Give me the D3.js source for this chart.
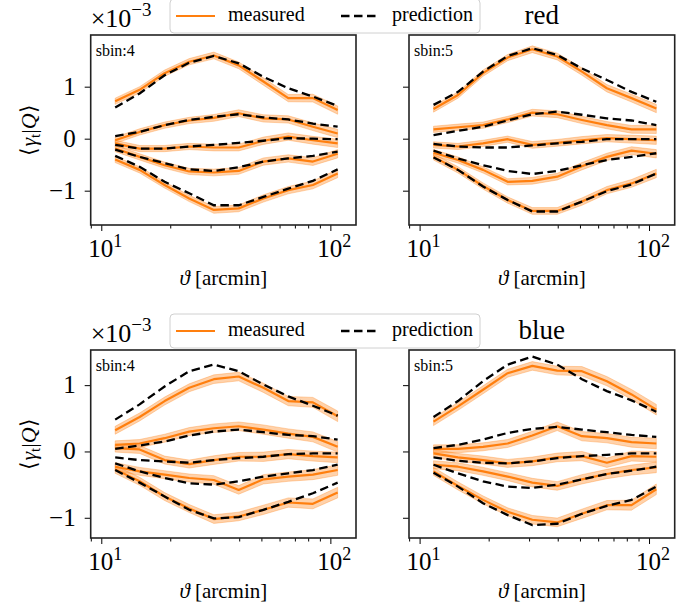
<!DOCTYPE html>
<html><head><meta charset="utf-8">
<script src="https://cdn.jsdelivr.net/npm/d3@7"></script>
<style>body{margin:0;background:#fff} svg{display:block}</style>
</head><body><svg id="c" width="692" height="606"></svg>
<script>
// angular bins [arcmin]
const theta = [11.5, 14.7, 18.9, 24.2, 31.0, 39.8, 51.0, 65.5, 83.9, 107.6];
// band half-widths (x1e-3)
const bandHalf = [0.06, 0.06, 0.06, 0.06, 0.065, 0.065, 0.07, 0.07, 0.075, 0.08];
const yTicks = [-1, 0, 1];
const xMajor = [10, 100];
const xMinor = [9, 20, 30, 40, 50, 60, 70, 80, 90];
const legendLabels = ["measured", "prediction"];
const groupTitles = ["red", "blue"];
const binLabels = ["sbin:4", "sbin:5"];

// values in units of 1e-3, five quantile curves per panel
const redS4Meas = [
 [0.72,0.94,1.26,1.48,1.60,1.41,1.10,0.78,0.78,0.55],
 [-0.03,0.13,0.26,0.35,0.40,0.49,0.39,0.37,0.23,0.10],
 [-0.09,-0.19,-0.19,-0.15,-0.17,-0.17,-0.04,0.04,-0.03,-0.09],
 [-0.19,-0.35,-0.51,-0.63,-0.65,-0.62,-0.44,-0.38,-0.44,-0.29],
 [-0.40,-0.60,-0.89,-1.15,-1.37,-1.34,-1.15,-0.99,-0.89,-0.67]];
const redS4Pred = [
 [0.60,0.87,1.22,1.46,1.59,1.45,1.19,0.97,0.81,0.63],
 [0.05,0.13,0.26,0.36,0.42,0.47,0.41,0.37,0.29,0.23],
 [-0.12,-0.19,-0.19,-0.15,-0.12,-0.08,-0.04,0.01,0.00,-0.01],
 [-0.21,-0.35,-0.47,-0.59,-0.62,-0.55,-0.44,-0.38,-0.33,-0.25],
 [-0.33,-0.54,-0.83,-1.05,-1.28,-1.28,-1.12,-0.96,-0.81,-0.59]];
const redS5Meas = [
 [0.57,0.84,1.26,1.56,1.72,1.58,1.29,0.97,0.78,0.58],
 [0.18,0.22,0.26,0.37,0.50,0.47,0.36,0.26,0.18,0.18],
 [-0.12,-0.15,-0.09,-0.01,-0.12,-0.08,-0.03,0.01,-0.01,-0.03],
 [-0.27,-0.41,-0.60,-0.83,-0.81,-0.73,-0.53,-0.35,-0.23,-0.29],
 [-0.35,-0.60,-0.91,-1.18,-1.39,-1.39,-1.21,-0.99,-0.86,-0.67]];
const redS5Pred = [
 [0.65,0.90,1.29,1.59,1.74,1.61,1.35,1.13,0.90,0.71],
 [0.07,0.15,0.23,0.35,0.47,0.52,0.46,0.39,0.35,0.26],
 [-0.10,-0.15,-0.17,-0.17,-0.13,-0.09,-0.06,-0.01,-0.01,-0.01],
 [-0.23,-0.38,-0.51,-0.62,-0.68,-0.62,-0.51,-0.41,-0.35,-0.28],
 [-0.36,-0.60,-0.92,-1.18,-1.40,-1.40,-1.21,-1.01,-0.88,-0.67]];
const blueS4Meas = [
 [0.32,0.52,0.76,0.96,1.09,1.13,0.96,0.76,0.74,0.53],
 [0.10,0.12,0.20,0.30,0.35,0.38,0.33,0.27,0.22,0.07],
 [0.05,0.03,-0.13,-0.19,-0.13,-0.08,-0.08,-0.04,-0.07,-0.09],
 [-0.23,-0.30,-0.35,-0.40,-0.43,-0.58,-0.42,-0.38,-0.35,-0.28],
 [-0.27,-0.45,-0.68,-0.86,-1.02,-0.98,-0.88,-0.77,-0.79,-0.62]];
const blueS4Pred = [
 [0.48,0.71,0.98,1.21,1.31,1.21,1.01,0.83,0.69,0.54],
 [0.04,0.09,0.15,0.24,0.30,0.33,0.29,0.25,0.23,0.18],
 [-0.09,-0.13,-0.15,-0.17,-0.13,-0.10,-0.08,-0.04,-0.03,-0.03],
 [-0.18,-0.30,-0.40,-0.48,-0.50,-0.45,-0.38,-0.33,-0.28,-0.20],
 [-0.28,-0.47,-0.68,-0.88,-1.01,-0.99,-0.88,-0.76,-0.63,-0.47]];
const blueS5Meas = [
 [0.45,0.68,0.93,1.18,1.29,1.22,1.21,1.06,0.86,0.63],
 [0.04,0.04,0.07,0.12,0.24,0.38,0.23,0.20,0.14,0.12],
 [-0.03,-0.09,-0.13,-0.18,-0.15,-0.09,-0.07,-0.17,-0.07,-0.08],
 [-0.20,-0.23,-0.30,-0.38,-0.47,-0.52,-0.42,-0.34,-0.28,-0.24],
 [-0.30,-0.52,-0.73,-0.91,-1.03,-1.07,-0.94,-0.81,-0.81,-0.57]];
const blueS5Pred = [
 [0.52,0.76,1.06,1.31,1.43,1.31,1.09,0.91,0.77,0.60],
 [0.05,0.10,0.18,0.28,0.34,0.37,0.33,0.29,0.25,0.22],
 [-0.09,-0.14,-0.17,-0.18,-0.15,-0.10,-0.07,-0.05,-0.03,-0.03],
 [-0.20,-0.33,-0.45,-0.53,-0.55,-0.50,-0.42,-0.34,-0.29,-0.23],
 [-0.32,-0.53,-0.78,-0.96,-1.11,-1.09,-0.94,-0.82,-0.73,-0.53]];

const ORANGE = "#ff7f0e";
const SERIF = '"Liberation Serif", "Times New Roman", serif';
const svg = d3.select("#c");
function txt(sel, size) {
  return sel.append("text").style("font-family", SERIF).attr("font-size", size).attr("fill", "#000");
}

const cols = [[90.7, 356], [409, 674.7]];
const rows = [{y0: 35, y1: 225, dom: [-1.66, 1.994]}, {y0: 350, y1: 538, dom: [-1.305, 1.53]}];
const xDomain = [8.99, 129.4];

const panels = [
  {row: 0, col: 0, meas: redS4Meas, pred: redS4Pred, bin: binLabels[0]},
  {row: 0, col: 1, meas: redS5Meas, pred: redS5Pred, bin: binLabels[1]},
  {row: 1, col: 0, meas: blueS4Meas, pred: blueS4Pred, bin: binLabels[0]},
  {row: 1, col: 1, meas: blueS5Meas, pred: blueS5Pred, bin: binLabels[1]},
];

panels.forEach(p => {
  const [xl, xr] = cols[p.col];
  const R = rows[p.row];
  const x = d3.scaleLog().domain(xDomain).range([xl, xr]);
  const y = d3.scaleLinear().domain(R.dom).range([R.y1, R.y0]);
  const g = svg.append("g");
  const clipId = "clip" + p.row + p.col;
  svg.append("clipPath").attr("id", clipId).append("rect")
    .attr("x", xl).attr("y", R.y0).attr("width", xr - xl).attr("height", R.y1 - R.y0);
  const plot = g.append("g").attr("clip-path", `url(#${clipId})`);

  const area = d3.area().x((d, i) => x(theta[i]))
    .y0((d, i) => y(d - bandHalf[i])).y1((d, i) => y(d + bandHalf[i]));
  const line = d3.line().x((d, i) => x(theta[i])).y(d => y(d));

  p.meas.forEach(s => {
    plot.append("path").attr("d", area(s)).attr("fill", ORANGE).attr("fill-opacity", 0.35)
      .attr("stroke", ORANGE).attr("stroke-opacity", 0.3).attr("stroke-width", 1);
  });
  p.meas.forEach(s => {
    plot.append("path").attr("d", line(s)).attr("fill", "none").attr("stroke", ORANGE)
      .attr("stroke-width", 2.2).attr("stroke-linejoin", "round");
  });
  p.pred.forEach(s => {
    plot.append("path").attr("d", line(s)).attr("fill", "none").attr("stroke", "#000")
      .attr("stroke-width", 2.3).attr("stroke-dasharray", "8.5,4.5");
  });

  // axes
  const xAxis = d3.axisBottom(x).tickValues(xMajor).tickSize(6).tickFormat("");
  const xAxisMinor = d3.axisBottom(x).tickValues(xMinor).tickSize(3.5).tickFormat("");
  const gx = g.append("g").attr("transform", `translate(0,${R.y1})`).call(xAxis);
  const gxm = g.append("g").attr("transform", `translate(0,${R.y1})`).call(xAxisMinor);
  [gx, gxm].forEach(a => { a.select(".domain").remove(); a.selectAll("line").attr("stroke", "#000").attr("stroke-width", 1); });
  xMajor.forEach((v, i) => {
    const t = txt(g, 25).attr("x", x(v) + 4).attr("y", R.y1 + 32).attr("text-anchor", "middle");
    t.append("tspan").text("10");
    t.append("tspan").attr("font-size", 18).attr("dy", -10).text(String(i + 1));
  });
  const yAxis = d3.axisLeft(y).tickValues(yTicks).tickSize(6).tickFormat("");
  const gy = g.append("g").attr("transform", `translate(${xl},0)`).call(yAxis);
  gy.select(".domain").remove();
  gy.selectAll("line").attr("stroke", "#000").attr("stroke-width", 1);
  if (p.col === 0) {
    yTicks.forEach(v => {
      txt(g, 25).attr("x", xl - 15).attr("y", y(v) + 8).attr("text-anchor", "end")
        .text(v < 0 ? "\u2212" + Math.abs(v) : String(v));
    });
    // y label
    const yl = txt(g, 22).attr("transform", `translate(36,${(R.y0 + R.y1) / 2}) rotate(-90)`)
      .attr("text-anchor", "middle");
    yl.append("tspan").text("\u27E8");
    yl.append("tspan").attr("font-style", "italic").text("\u03B3");
    yl.append("tspan").attr("font-size", 15).attr("dy", 4).text("t");
    yl.append("tspan").attr("dy", -4).text("|");
    yl.append("tspan").attr("font-style", "italic").text("Q");
    yl.append("tspan").text("\u27E9");
    // multiplier
    const m = txt(g, 26).attr("x", xl).attr("y", R.y0 - 8);
    m.append("tspan").text("\u00D710");
    m.append("tspan").attr("font-size", 19).attr("dy", -11).text("\u22123");
  }
  // x label
  const xlab = txt(g, 21).attr("x", (xl + xr) / 2).attr("y", R.y1 + 60).attr("text-anchor", "middle");
  xlab.append("tspan").attr("font-style", "italic").text("\u03D1");
  xlab.append("tspan").text(" [arcmin]");
  // frame
  g.append("rect").attr("x", xl).attr("y", R.y0).attr("width", xr - xl).attr("height", R.y1 - R.y0)
    .attr("fill", "none").attr("stroke", "#222").attr("stroke-width", 1.6);
  // bin label
  txt(g, 16).attr("x", xl + 5).attr("y", R.y0 + 21).text(p.bin);

  if (p.col === 1) {
    txt(g, 27).attr("x", (xl + xr) / 2).attr("y", R.y0 - 11).attr("text-anchor", "middle")
      .text(groupTitles[p.row]);
  }
  if (p.col === 0) {
    const ly = R.y0 - 19;
    const lg = svg.append("g");
    lg.append("rect").attr("x", 170).attr("y", ly - 17).attr("width", 310).attr("height", 34).attr("rx", 4)
      .attr("fill", "#fff").attr("fill-opacity", 0.8).attr("stroke", "#d0d0d0").attr("stroke-width", 1);
    lg.append("line").attr("x1", 176).attr("x2", 215).attr("y1", ly).attr("y2", ly)
      .attr("stroke", ORANGE).attr("stroke-width", 2.2);
    txt(lg, 20).attr("x", 228).attr("y", ly + 5).text(legendLabels[0]);
    lg.append("line").attr("x1", 341).attr("x2", 378).attr("y1", ly).attr("y2", ly)
      .attr("stroke", "#000").attr("stroke-width", 2.3).attr("stroke-dasharray", "8.5,4.5");
    txt(lg, 20).attr("x", 392).attr("y", ly + 5).text(legendLabels[1]);
  }
});
</script></body></html>
